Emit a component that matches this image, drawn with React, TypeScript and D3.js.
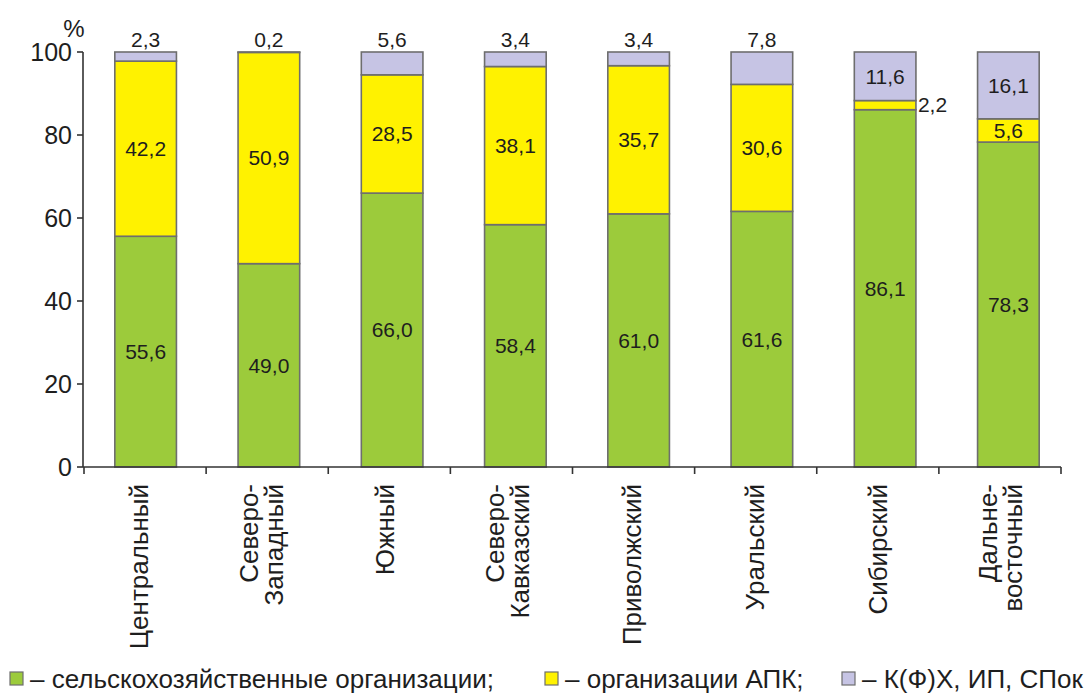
import React from "react";
import * as d3 from "d3";

const categories: string[][] = [
  ["Центральный"],
  ["Северо-", "Западный"],
  ["Южный"],
  ["Северо-", "Кавказский"],
  ["Приволжский"],
  ["Уральский"],
  ["Сибирский"],
  ["Дальне-", "восточный"],
];
const agriOrgs = [55.6, 49.0, 66.0, 58.4, 61.0, 61.6, 86.1, 78.3];
const apkOrgs = [42.2, 50.9, 28.5, 38.1, 35.7, 30.6, 2.2, 5.6];
const farms = [2.3, 0.2, 5.6, 3.4, 3.4, 7.8, 11.6, 16.1];
const yTicks = [0, 20, 40, 60, 80, 100];
const seriesKeys = ["agri", "apk", "farms"];
const seriesNames = [
  "– сельскохозяйственные организации;",
  "– организации АПК;",
  "– К(Ф)Х, ИП, СПок",
];
const seriesColors = ["#9ccb3b", "#fff200", "#c6c4e4"];

const W = 1092;
const H = 694;
const FONT = "'Liberation Sans', Arial, Helvetica, sans-serif";

const fmt = (v: number) => v.toFixed(1).replace(".", ",");

export default function App() {
  const rows = categories.map((c, i) => ({
    idx: i,
    agri: agriOrgs[i],
    apk: apkOrgs[i],
    farms: farms[i],
  }));
  const stack = d3.stack<any>().keys(seriesKeys);
  const stacked = stack(rows);

  const x = d3
    .scaleBand<number>()
    .domain(rows.map((r) => r.idx))
    .range([84, 1070])
    .paddingInner(0.5)
    .paddingOuter(0.25);
  const xEdge = d3.scaleLinear().domain([0, categories.length]).range([84, 1061]);
  const y = d3.scaleLinear().domain([0, 100]).range([467, 52]);
  const bw = x.bandwidth();
  const edges = d3.range(categories.length + 1);

  return (
    <svg
      width={W}
      height={H}
      style={{ position: "fixed", left: 0, top: 0, background: "#fff" }}
      fontFamily={FONT}
    >
      <rect x={0} y={0} width={W} height={H} fill="#fff" />
      {/* bars */}
      {stacked.map((s, si) =>
        s.map((d, i) => {
          const x0 = x(i)!;
          const top = si === seriesKeys.length - 1 ? Math.max(d[1], 100) : d[1];
          const yTop = y(Math.min(top, 100));
          const yBot = y(d[0]);
          return (
            <rect
              key={`${si}-${i}`}
              x={x0}
              y={yTop}
              width={bw}
              height={yBot - yTop}
              fill={seriesColors[si]}
              stroke="#6e6e6e"
              strokeWidth={1.6}
            />
          );
        })
      )}
      {/* value labels */}
      {stacked.map((s, si) =>
        s.map((d, i) => {
          const v = d[1] - d[0];
          const cx = x(i)! + bw / 2;
          const cy = (y(d[0]) + y(d[1])) / 2;
          const isTop = si === seriesKeys.length - 1;
          if (isTop && v < 10) {
            return (
              <text key={`l${si}-${i}`} x={cx} y={y(100) - 5} textAnchor="middle" fontSize={21} fill="#1e1e1e">
                {fmt(v)}
              </text>
            );
          }
          if (!isTop && v < 5) {
            return (
              <text key={`l${si}-${i}`} x={x(i)! + bw + 2} y={cy} dy="0.35em" textAnchor="start" fontSize={21} fill="#1e1e1e">
                {fmt(v)}
              </text>
            );
          }
          return (
            <text key={`l${si}-${i}`} x={cx} y={cy} dy="0.35em" textAnchor="middle" fontSize={21} fill="#1e1e1e">
              {fmt(v)}
            </text>
          );
        })
      )}
      {/* y axis */}
      <line x1={83} x2={83} y1={y(100)} y2={y(0)} stroke="#333" strokeWidth={1.6} />
      {yTicks.map((t) => (
        <g key={t}>
          <line x1={77} x2={83} y1={y(t)} y2={y(t)} stroke="#333" strokeWidth={1.6} />
          <text x={72} y={y(t)} dy="0.36em" textAnchor="end" fontSize={25} fill="#1e1e1e">
            {t}
          </text>
        </g>
      ))}
      <text x={74} y={37} textAnchor="middle" fontSize={24} fill="#1e1e1e">
        %
      </text>
      {/* x axis */}
      <line x1={83} x2={xEdge(categories.length)} y1={y(0)} y2={y(0)} stroke="#333" strokeWidth={1.6} />
      {edges.map((e) => (
        <line key={e} x1={xEdge(e)} x2={xEdge(e)} y1={y(0)} y2={y(0) + 7} stroke="#333" strokeWidth={1.6} />
      ))}
      {categories.map((lines, i) => {
        const cx = x(i)! + bw / 2;
        const offsets = lines.length === 1 ? [2] : [-11, 14];
        return lines.map((ln, li) => (
          <text
            key={`c${i}-${li}`}
            transform={`translate(${cx + offsets[li]},484) rotate(-90)`}
            textAnchor="end"
            fontSize={26}
            fill="#1e1e1e"
          >
            {ln}
          </text>
        ));
      })}
      {/* legend */}
      {seriesNames.map((name, i) => {
        const lx = [10, 545, 842][i];
        return (
          <g key={name}>
            <rect x={lx} y={672} width={13} height={13} fill={seriesColors[i]} stroke="#6e6e6e" strokeWidth={1.2} />
            <text x={lx + 20} y={688} fontSize={26} fill="#1e1e1e">
              {name}
            </text>
          </g>
        );
      })}
    </svg>
  );
}
